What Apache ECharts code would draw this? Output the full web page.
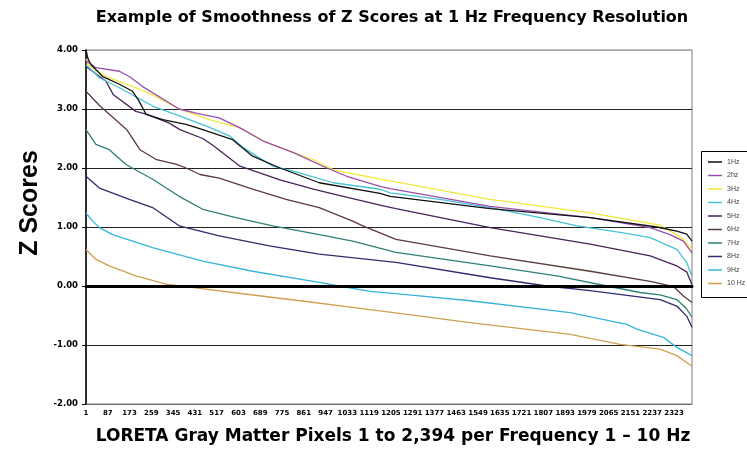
<!DOCTYPE html>
<html>
<head>
<meta charset="utf-8">
<script src="https://cdn.jsdelivr.net/npm/echarts@6/dist/echarts.min.js"></script>
<style>
html,body{margin:0;padding:0;background:#fff;}
#chart{width:747px;height:455px;}
</style>
</head>
<body>
<div id="chart"></div>
<script>
// ---- text ----
var titleText = 'Example of Smoothness of Z Scores at 1 Hz Frequency Resolution';
var xAxisTitle = 'LORETA Gray Matter Pixels 1 to 2,394 per Frequency 1 \u2013 10 Hz';
var yAxisTitle = 'Z Scores';
var seriesNames = ['1Hz', '2hz', '3Hz', '4Hz', '5Hz', '6Hz', '7Hz', '8Hz', '9Hz', '10 Hz'];
var seriesColors = ['#111111', '#9a4fb0', '#f2e63a', '#46c3d4', '#4a2358', '#5e3a3a', '#2f8078', '#2d2d70', '#38b4dc', '#d0a050'];

// ---- x axis (pixel index) ----
var xMin = 1, xMax = 2394, xStep = 86;
// ---- y axis ----
var yMin = -2, yMax = 4, yStep = 1;

// ---- series values: [pixel index, Z score] ----
var hz1 = [[1,4.00],[9,3.85],[21,3.75],[67,3.55],[133,3.42],[185,3.30],[211,3.13],[238,2.91],[304,2.82],[396,2.74],[462,2.65],[580,2.48],[659,2.20],[767,2.00],[922,1.75],[1162,1.57],[1202,1.52],[1597,1.31],[1992,1.16],[2255,1.00],[2334,0.93],[2373,0.88],[2394,0.76]];
var hz2 = [[1,3.82],[40,3.70],[133,3.64],[172,3.55],[225,3.38],[369,3.00],[435,2.93],[527,2.85],[609,2.68],[704,2.45],[820,2.26],[952,2.00],[1031,1.86],[1162,1.69],[1202,1.65],[1597,1.35],[1992,1.16],[2229,0.99],[2307,0.87],[2360,0.76],[2394,0.56]];
var hz3 = [[1,3.85],[9,3.75],[80,3.55],[198,3.36],[264,3.24],[369,3.00],[488,2.82],[609,2.68],[714,2.43],[791,2.31],[899,2.14],[978,1.97],[1162,1.81],[1202,1.78],[1597,1.47],[1992,1.24],[2268,1.03],[2321,0.90],[2360,0.79],[2394,0.62]];
var hz4 = [[1,3.75],[54,3.53],[133,3.36],[264,3.05],[372,2.88],[477,2.71],[570,2.54],[620,2.35],[738,2.03],[833,1.93],[978,1.75],[1162,1.64],[1202,1.58],[1399,1.47],[1597,1.33],[1794,1.16],[1940,1.02],[2123,0.90],[2229,0.82],[2334,0.62],[2373,0.40],[2394,0.17]];
var hz5 = [[1,3.72],[80,3.47],[109,3.24],[198,2.96],[242,2.91],[330,2.76],[372,2.65],[462,2.50],[503,2.38],[609,2.03],[767,1.80],[899,1.64],[988,1.55],[1162,1.37],[1225,1.31],[1597,0.99],[1992,0.71],[2229,0.51],[2334,0.34],[2373,0.24],[2394,0.02]];
var hz6 = [[1,3.30],[56,3.05],[109,2.85],[162,2.65],[214,2.31],[280,2.14],[359,2.06],[396,2.00],[451,1.89],[527,1.83],[659,1.64],[791,1.47],[922,1.33],[1054,1.10],[1094,1.02],[1225,0.79],[1597,0.51],[1992,0.25],[2229,0.08],[2321,-0.01],[2360,-0.17],[2394,-0.28]];
var hz7 = [[1,2.65],[40,2.40],[93,2.31],[159,2.06],[264,1.81],[369,1.52],[462,1.30],[593,1.16],[738,1.02],[922,0.87],[1054,0.76],[1225,0.57],[1597,0.34],[1860,0.17],[2058,0.00],[2189,-0.11],[2268,-0.15],[2334,-0.23],[2373,-0.39],[2394,-0.53]];
var hz8 = [[1,1.86],[54,1.66],[172,1.47],[264,1.33],[369,1.02],[527,0.85],[725,0.68],[922,0.54],[1225,0.40],[1597,0.14],[1821,0.00],[1992,-0.08],[2268,-0.23],[2334,-0.34],[2373,-0.51],[2394,-0.70]];
var hz9 = [[1,1.24],[27,1.10],[54,0.99],[106,0.87],[264,0.65],[462,0.42],[659,0.25],[922,0.06],[1001,0.00],[1123,-0.09],[1225,-0.13],[1518,-0.25],[1913,-0.45],[2137,-0.65],[2176,-0.73],[2281,-0.87],[2334,-1.04],[2394,-1.18]];
var hz10 = [[1,0.62],[40,0.45],[93,0.34],[198,0.17],[317,0.03],[396,-0.01],[580,-0.11],[846,-0.25],[1162,-0.42],[1518,-0.62],[1913,-0.82],[2110,-0.99],[2268,-1.07],[2334,-1.18],[2394,-1.36]];
var seriesData = [hz1, hz2, hz3, hz4, hz5, hz6, hz7, hz8, hz9, hz10];

var chart = echarts.init(document.getElementById('chart'), null, {renderer: 'canvas'});

var series = seriesNames.map(function (name, k) {
  return {
    name: name,
    type: 'line',
    data: seriesData[k],
    symbol: 'none',
    showSymbol: false,
    smooth: false,
    lineStyle: {width: 1.3, color: seriesColors[k]},
    itemStyle: {color: seriesColors[k]},
    z: 3 + (10 - k) * 0.01
  };
});

var option = {
  backgroundColor: '#ffffff',
  animation: false,
  grid: {left: 86, right: 55, top: 50, bottom: 51, show: true, borderColor: '#a8a8a8', borderWidth: 1.5, backgroundColor: 'transparent'},
  xAxis: {
    type: 'value', min: xMin, max: xMax, interval: xStep,
    axisLine: {show: true, onZero: true, lineStyle: {color: '#000', width: 3}},
    axisTick: {show: false},
    splitLine: {show: false},
    axisLabel: {show: true, showMaxLabel: false, showMinLabel: true, margin: 6,
      fontFamily: 'DejaVu Sans', fontWeight: 'bold', fontSize: 7, color: '#000',
      formatter: function (v) { return String(v); }},
    z: 10
  },
  yAxis: {
    type: 'value', min: yMin, max: yMax, interval: yStep,
    axisLine: {show: true, lineStyle: {color: '#000', width: 1.5}},
    axisTick: {show: true, length: 4, lineStyle: {color: '#000'}},
    splitLine: {show: true, lineStyle: {color: ['#707070', '#222', '#222', '#222', '#222', '#222', '#a8a8a8'], width: 1.2}},
    axisLabel: {margin: 8, fontFamily: 'DejaVu Sans', fontWeight: 'bold', fontSize: 8.5, color: '#000',
      formatter: function (v) { return v.toFixed(2); }}
  },
  legend: {
    orient: 'vertical', left: 703, top: 153,
    icon: 'rect', itemWidth: 14, itemHeight: 1.5, itemGap: 5.5,
    textStyle: {fontFamily: 'Liberation Sans', fontSize: 7, color: '#444', lineHeight: 8},
    data: seriesNames
  },
  graphic: [
    {type: 'text', x: 392, y: 18, style: {text: titleText, font: 'bold 16px "DejaVu Sans"', fill: '#000', textAlign: 'center', textVerticalAlign: 'middle'}},
    {type: 'text', x: 393, y: 437, style: {text: xAxisTitle, font: 'bold 17px "DejaVu Sans"', fill: '#000', textAlign: 'center', textVerticalAlign: 'middle'}},
    {type: 'text', x: 30, y: 203, rotation: Math.PI / 2, style: {text: yAxisTitle, font: 'bold 25px "Liberation Sans"', fill: '#000', textAlign: 'center', textVerticalAlign: 'middle'}},
    {type: 'rect', shape: {x: 701.5, y: 151.5, width: 60, height: 146}, style: {fill: 'none', stroke: '#000', lineWidth: 1}}
  ],
  series: series
};
chart.setOption(option);
</script>
</body>
</html>
